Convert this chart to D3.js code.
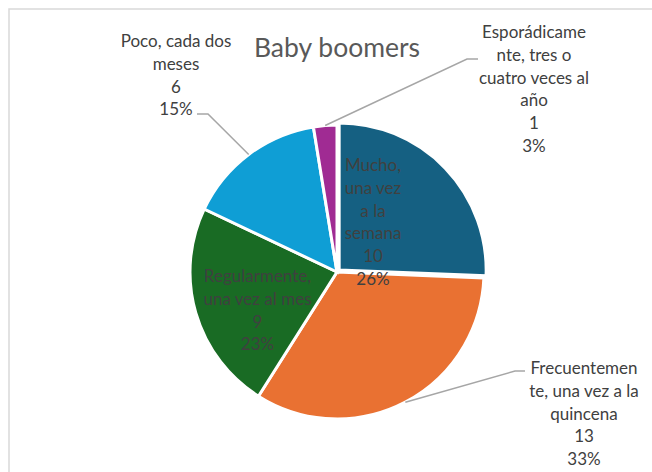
<!DOCTYPE html>
<html>
<head>
<meta charset="utf-8">
<script src="https://cdn.jsdelivr.net/npm/d3@7"></script>
<style>
  html, body { margin: 0; padding: 0; background: #fff; }
  svg { display: block; }
  text { font-family: Lato, "Open Sans", sans-serif; }
</style>
</head>
<body>
<svg id="chart" width="652" height="472"></svg>
<script>
// ---- data ----
const categories = [
  "Mucho, una vez a la semana",
  "Frecuentemente, una vez a la quincena",
  "Regularmente, una vez al mes",
  "Poco, cada dos meses",
  "Esporádicamente, tres o cuatro veces al año"
];
const values = [10, 13, 9, 6, 1];
const labelLines = [
  ["Mucho,", "una vez", "a la", "semana"],
  ["Frecuentemen", "te, una vez a la", "quincena"],
  ["Regularmente,", "una vez al mes"],
  ["Poco, cada dos", "meses"],
  ["Esporádicame", "nte, tres o", "cuatro veces al", "año"]
];
const colors = ["#156082", "#E97132", "#196B24", "#0F9ED5", "#A02B93"];
const title = "Baby boomers";

// ---- layout (positions only) ----
const W = 652, H = 472;
const cx = 337, cy = 272, R = 147;
const explode = [3, 0, 0, 0, 0];
// label anchor: center x, first line center y; elbow for leader (null = inside)
const labelPos = [
  { x: 373, y: 165, elbow: null },
  { x: 584, y: 368, elbow: [[525, 371], [515, 371]] },
  { x: 257.5, y: 276, elbow: null },
  { x: 176, y: 41, elbow: [[197, 114], [208, 114]] },
  { x: 534, y: 32, elbow: [[478, 59], [467, 59]] }
];
const lineH = 22.8;

const svg = d3.select("#chart");

// chart border
svg.append("rect")
  .attr("x", 9).attr("y", 9)
  .attr("width", 700).attr("height", 520)
  .attr("fill", "none")
  .attr("stroke", "#d9d9d9")
  .attr("stroke-width", 1.5);

// title
svg.append("text")
  .attr("x", 337).attr("y", 56.5)
  .attr("text-anchor", "middle")
  .attr("font-size", 26.5)
  .attr("fill", "#595959")
  .text(title);

const data = categories.map((c, i) => ({ cat: c, value: values[i], i }));
const total = d3.sum(values);
const pie = d3.pie().value(d => d.value).sort(null);
const arcs = pie(data);
const arc = d3.arc().innerRadius(0).outerRadius(R);

const g = svg.append("g").attr("transform", `translate(${cx},${cy})`);

g.selectAll("path.slice")
  .data(arcs)
  .join("path")
  .attr("class", "slice")
  .attr("transform", d => {
    const a = (d.startAngle + d.endAngle) / 2;
    const e = explode[d.index];
    return `translate(${e * Math.sin(a)},${-e * Math.cos(a)})`;
  })
  .attr("d", arc)
  .attr("fill", d => colors[d.index])
  .attr("stroke", "#fff")
  .attr("stroke-width", 3)
  .attr("stroke-linejoin", "miter");

// leader lines
arcs.forEach(d => {
  const lp = labelPos[d.index];
  if (!lp.elbow) return;
  const a = (d.startAngle + d.endAngle) / 2;
  const end = [cx + R * Math.sin(a), cy - R * Math.cos(a)];
  const pts = lp.elbow.concat([end]);
  svg.append("path")
    .attr("d", d3.line()(pts))
    .attr("fill", "none")
    .attr("stroke", "#a6a6a6")
    .attr("stroke-width", 1.5);
});

// labels
const fmt = d3.format(".0%");
arcs.forEach(d => {
  const lp = labelPos[d.index];
  const lines = labelLines[d.index].concat([String(d.data.value), fmt(d.data.value / total)]);
  const t = svg.append("text")
    .attr("text-anchor", "middle")
    .attr("font-size", 17)
    .attr("fill", "#404040");
  lines.forEach((s, k) => {
    t.append("tspan")
      .attr("x", lp.x)
      .attr("y", lp.y + k * lineH)
      .attr("dy", "0.35em")
      .text(s);
  });
});
</script>
</body>
</html>
